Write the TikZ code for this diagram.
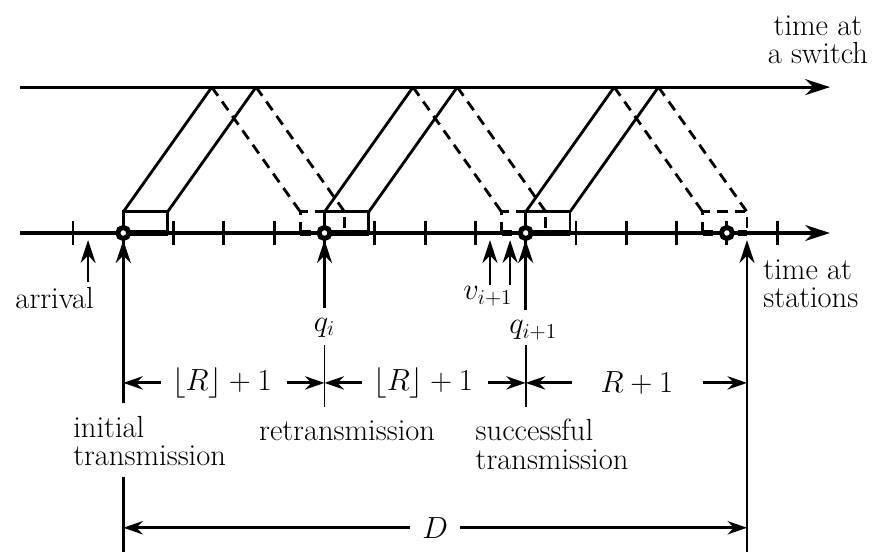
\documentclass[tikz,border=0pt]{standalone}
\usetikzlibrary{arrows.meta}
\tikzset{
  axis/.style={line width=1.8pt,-{Stealth[length=14pt,width=9pt]}},
  uparrow/.style={line width=1.5pt,-{Stealth[length=13pt,width=8.5pt]}},
  dimarrow/.style={line width=1.6pt,-{Stealth[length=11pt,width=7.5pt]}},
  packet/.style={line width=1.6pt},
  feedback/.style={line width=1.6pt,dash pattern=on 6pt off 4pt},
  bound/.style={line width=1pt},
  lbl/.style={font=\fontsize{17.28}{16}\selectfont,inner sep=0pt},
}
\begin{document}
\begin{tikzpicture}
  \useasboundingbox (-1.451,-6.441) rectangle (16.004,4.632);
  \def\pd{1.76}% propagation delay
  \def\pw{0.88}% packet length
  \def\ph{0.42}% box height
  \def\sy{2.9}% switch axis
  % the two time axes
  \coordinate (sw0) at (-1.05,\sy);
  \coordinate (sw1) at (15.05,\sy);
  \draw[axis] (sw0) -- (sw1);
  \coordinate (st0) at (-1.05,0);
  \coordinate (st1) at (15.05,0);
  \draw[axis] (st0) -- (st1);
  \foreach \k in {0,...,14}
    \draw[packet] (\k,-0.24) -- (\k,0.24);
  % transmissions and their feedback
  \foreach \q in {1,5,9} {
    \draw[feedback] (\q+2*\pd,0) rectangle (\q+2*\pd+\pw,\ph);
    \draw[feedback,line width=3pt] (\q+2*\pd,0) -- (\q+2*\pd+\pw,0);
    \draw[packet] (\q,0) rectangle (\q+\pw,\ph);
    \draw[line width=3pt] (\q,0) -- (\q+\pw,0);
    \draw[packet] (\q,\ph) -- (\q+\pd,\sy);
    \draw[packet] (\q+\pw,\ph) -- (\q+\pw+\pd,\sy);
    \draw[feedback] (\q+\pd,\sy) -- (\q+2*\pd,\ph);
    \draw[feedback] (\q+\pw+\pd,\sy) -- (\q+2*\pd+\pw,\ph);
  }
  \foreach \q in {1,5,9,13}
    \draw[line width=2.8pt,fill=white] (\q,0) circle (0.11);
  % arrows pointing at the station axis
  \coordinate (arrT) at (0.3,-0.14);
  \coordinate (arrB) at (0.3,-0.97);
  \draw[uparrow] (arrB) -- (arrT);
  \node[lbl,anchor=north west] (arrival) at (-1.15,-1.07) {arrival};
  \coordinate (iniT) at (1,-0.14);
  \coordinate (iniB) at (1,-3.38);
  \draw[uparrow] (iniB) -- (iniT);
  \coordinate (qiT) at (5,-0.14);
  \coordinate (qiB) at (5,-1.49);
  \draw[uparrow] (qiB) -- (qiT);
  \node[lbl,anchor=base] (qi) at (5,-1.95) {$q_i$};
  \coordinate (vaT) at (8.29,-0.14);
  \coordinate (vaB) at (8.29,-1.03);
  \draw[uparrow] (vaB) -- (vaT);
  \coordinate (vbT) at (8.69,-0.14);
  \coordinate (vbB) at (8.69,-1.03);
  \draw[uparrow] (vbB) -- (vbT);
  \node[lbl,anchor=base] (vnext) at (8.25,-1.33) {$v_{i+1}$};
  \coordinate (qjT) at (9,-0.14);
  \coordinate (qjB) at (9,-1.53);
  \draw[uparrow] (qjB) -- (qjT);
  \node[lbl,anchor=base] (qnext) at (9.15,-2.0) {$q_{i+1}$};
  \coordinate (endT) at (13.4,-0.14);
  \coordinate (endB) at (13.4,-6.34);
  \draw[uparrow] (endB) -- (endT);
  % interval bounds
  \coordinate (sepA) at (5,-2.23);
  \coordinate (sepB) at (5,-3.46);
  \draw[bound] (sepA) -- (sepB);
  \coordinate (sepC) at (9,-2.23);
  \coordinate (sepD) at (9,-3.46);
  \draw[bound] (sepC) -- (sepD);
  \coordinate (lowA) at (1,-4.85);
  \coordinate (lowB) at (1,-6.34);
  \draw[packet] (lowA) -- (lowB);
  % interval lengths
  \node[lbl] (gapA) at (2.96,-2.98) {$\lfloor R\rfloor+1$};
  \node[lbl] (gapB) at (6.96,-2.98) {$\lfloor R\rfloor+1$};
  \node[lbl] (gapC) at (11.21,-2.98) {$R+1$};
  \draw[dimarrow] (1.74,-2.98) -- (1,-2.98);
  \draw[dimarrow] (4.25,-2.98) -- (5,-2.98);
  \draw[dimarrow] (5.74,-2.98) -- (5,-2.98);
  \draw[dimarrow] (8.25,-2.98) -- (9,-2.98);
  \draw[dimarrow] (9.92,-2.98) -- (9,-2.98);
  \draw[dimarrow] (12.52,-2.98) -- (13.4,-2.98);
  \node[lbl] (delay) at (7.2,-5.86) {$D$};
  \draw[dimarrow] (6.7,-5.86) -- (1,-5.86);
  \draw[dimarrow] (7.7,-5.86) -- (13.4,-5.86);
  % texts
  \node[lbl,anchor=north west,align=left] (initial) at (0,-3.64) {initial\\transmission};
  \node[lbl,anchor=base] (retrans) at (5.45,-4.12) {retransmission};
  \node[lbl,anchor=north west,align=left] (success) at (8.0,-3.70) {successful\\transmission};
  \node[lbl,anchor=north,align=center] (switch) at (14.81,4.33) {time at\\a switch};
  \node[lbl,anchor=north west,align=left] (stations) at (13.72,-0.52) {time at\\stations};
\end{tikzpicture}
\end{document}
